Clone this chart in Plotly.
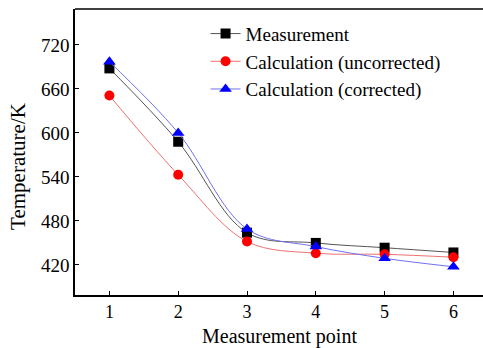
import plotly.graph_objects as go

points = [1, 2, 3, 4, 5, 6]
measurement = [688, 588, 464, 450, 443.5, 437]
calc_uncorrected = [651, 543, 452, 436, 434.5, 430.5]
calc_corrected = [697, 600, 469, 445, 429, 417.5]

FONT = "Liberation Serif, Times New Roman, serif"

fig = go.Figure()
series = [
    ("Measurement", measurement, "#555555", "black", "square"),
    ("Calculation (uncorrected)", calc_uncorrected, "#f07070", "red", "circle"),
    ("Calculation (corrected)", calc_corrected, "#7070f0", "blue", "triangle-up"),
]
for name, ys, lc, mc, sym in series:
    fig.add_trace(go.Scatter(
        x=points, y=ys, name=name, mode="lines+markers",
        line=dict(color=lc, width=1, shape="spline", smoothing=1.0),
        marker=dict(color=mc, symbol=sym, size=10 if sym != "triangle-up" else 11),
    ))

fig.update_layout(
    width=483, height=348,
    margin=dict(l=75, r=0, t=9, b=53),
    plot_bgcolor="white", paper_bgcolor="white",
    font=dict(family=FONT, size=19, color="black"),
    showlegend=True,
    legend=dict(x=0.32, y=0.98, xanchor="left", yanchor="top",
                bgcolor="rgba(0,0,0,0)", font=dict(family=FONT, size=19),
                tracegroupgap=0),
    xaxis=dict(range=[0.5, 6.43], tickvals=points, showgrid=False, zeroline=False,
               showline=True, linecolor="black", linewidth=1.5,
               ticks="inside", ticklen=4, tickcolor="black",
               tickfont=dict(size=18)),
    yaxis=dict(range=[379, 769], tickvals=[420, 480, 540, 600, 660, 720], showgrid=False,
               zeroline=False, showline=True, linecolor="black", linewidth=1.5,
               ticks="inside", ticklen=4, tickcolor="black"),
    shapes=[dict(type="line", xref="paper", yref="paper", x0=0, x1=1, y0=1, y1=1,
                 line=dict(color="black", width=1.5))],
    annotations=[
        dict(text="Measurement point", xref="paper", yref="paper", x=0.5, y=-0.145,
             xanchor="center", yanchor="middle", showarrow=False, font=dict(size=20)),
        dict(text="Temperature/K", xref="paper", yref="paper", x=-0.14, y=0.451,
             xanchor="center", yanchor="middle", showarrow=False, textangle=-90,
             font=dict(size=21)),
    ],
)

fig.write_html("out.html")
